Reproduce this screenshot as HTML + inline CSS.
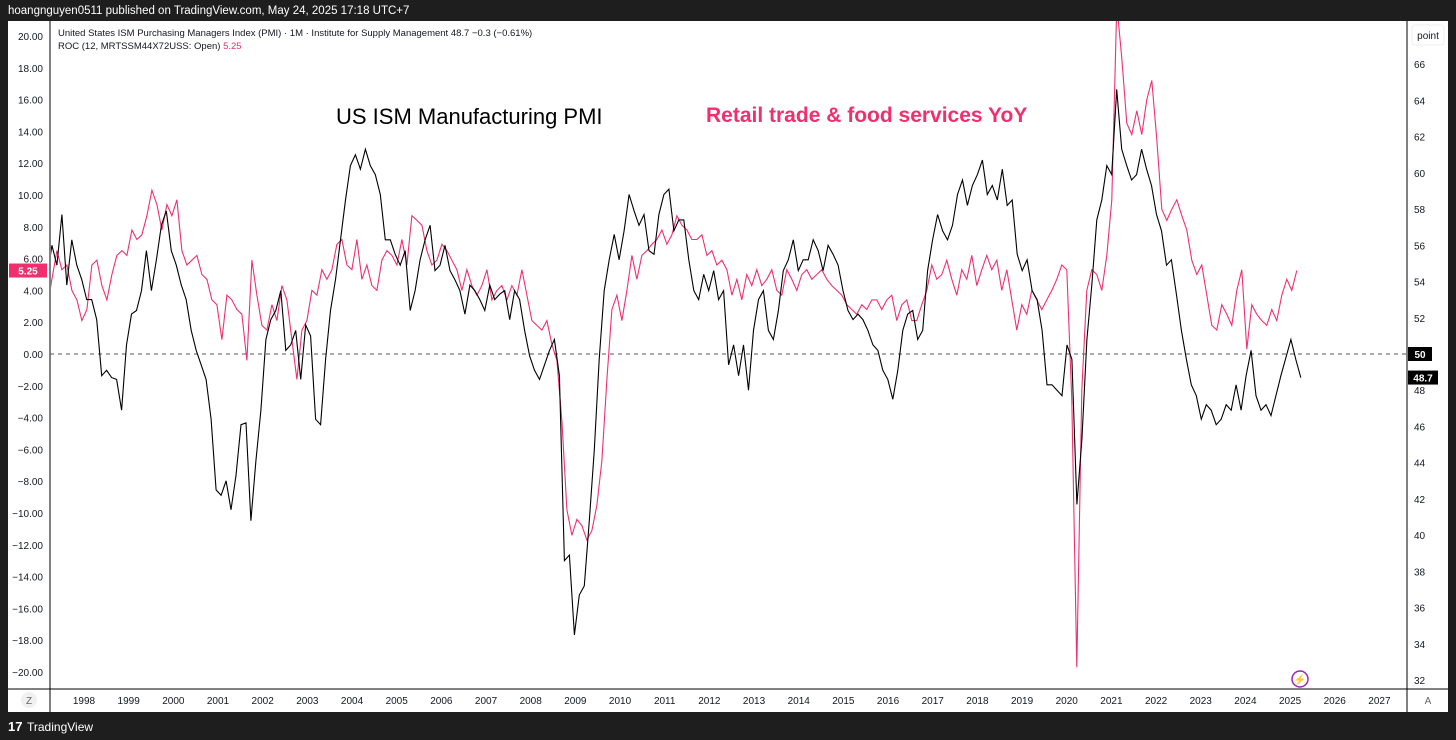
<!DOCTYPE html>
<html><head><meta charset="utf-8">
<style>
html,body{margin:0;padding:0;background:#1e1e1e;}
svg{display:block;font-family:"Liberation Sans",sans-serif;}
</style></head>
<body>
<svg id="chart" width="1456" height="740" viewBox="0 0 1456 740" xmlns="http://www.w3.org/2000/svg">
<rect x="0" y="0" width="1456" height="740" fill="#1e1e1e"/>
<text x="8" y="14" fill="#ffffff" font-size="11.5">hoangnguyen0511 published on TradingView.com, May 24, 2025 17:18 UTC+7</text>
<rect x="8" y="21" width="1440" height="691" fill="#ffffff"/>
<line x1="50" y1="21" x2="50" y2="712" stroke="#000" stroke-width="1"/>
<line x1="1407" y1="21" x2="1407" y2="712" stroke="#000" stroke-width="1"/>
<line x1="8" y1="689" x2="1448" y2="689" stroke="#000" stroke-width="1"/>
<g id="leftTicks"></g>
<g id="rightTicks"></g>
<g id="timeTicks"></g>
<line id="ref50" x1="50" x2="1407" stroke="#555" stroke-dasharray="4,4" stroke-width="1"/>
<defs><clipPath id="plotClip"><rect x="51" y="21" width="1356" height="668"/></clipPath></defs>
<g clip-path="url(#plotClip)">
<path id="retailLine" fill="none" stroke="#f0306e" stroke-width="1.1"/>
<path id="pmiLine" fill="none" stroke="#000" stroke-width="1.1"/>
</g>
<text x="58" y="36" font-size="9.5" fill="#131722">United States ISM Purchasing Managers Index (PMI) · 1M · Institute for Supply Management  48.7  −0.3 (−0.61%)</text>
<text x="58" y="49" font-size="9.5" fill="#131722">ROC (12, MRTSSM44X72USS: Open)  <tspan fill="#f0306e">5.25</tspan></text>
<text x="336" y="124" font-size="22" fill="#000">US ISM Manufacturing PMI</text>
<text x="706" y="122" font-size="21" font-weight="bold" fill="#f0306e">Retail trade &amp; food services YoY</text>
<rect x="1412" y="25" width="32" height="20" rx="3" fill="#fff" stroke="#eee"/>
<text x="1428" y="39" font-size="10" text-anchor="middle" fill="#131722">point</text>
<circle cx="1300" cy="679" r="8" fill="#fff" stroke="#9c27b0" stroke-width="1.5"/>
<text x="1300" y="683" font-size="10" text-anchor="middle" fill="#9c27b0">⚡</text>
<circle cx="29" cy="700" r="8" fill="#f0f0f0"/>
<text x="29" y="704" font-size="10" text-anchor="middle" fill="#666">Z</text>
<text x="1428" y="704" font-size="10" text-anchor="middle" fill="#666">A</text>
<g id="badges"></g>
<text x="8" y="731" font-size="13" font-weight="bold" fill="#fff">17</text>
<text x="27" y="731" font-size="12" fill="#fff">TradingView</text>
</svg>
<script>
const pmiStart = 1997.17, pmiEnd = 2025.24;
const pmiValues = [54.1,56.0,54.9,57.7,53.8,56.3,54.9,54.1,53.0,53.0,51.9,48.8,49.1,48.7,48.6,46.9,50.5,52.2,52.4,53.5,55.7,53.5,55.2,57.1,57.9,55.7,54.9,53.8,53.0,51.3,50.2,49.4,48.6,46.4,42.5,42.2,43.0,41.4,43.3,46.1,46.2,40.8,44.1,46.9,50.8,51.9,52.4,53.5,50.2,50.5,51.3,48.6,51.6,51.0,46.4,46.1,49.7,52.4,54.1,56.3,58.5,60.4,61.0,60.2,61.3,60.4,59.9,58.8,56.3,56.3,55.5,54.9,55.7,52.4,53.5,55.2,56.3,57.1,54.6,54.9,56.0,54.6,54.1,53.5,52.2,53.8,53.5,53.0,52.4,53.8,53.0,53.3,53.5,51.9,53.5,53.0,51.3,49.9,49.1,48.6,49.4,50.2,50.8,48.8,38.6,38.9,34.5,36.7,37.2,40.8,44.7,49.7,53.5,55.2,56.6,55.2,56.8,58.8,57.9,57.1,57.7,55.7,55.5,57.7,58.8,59.1,56.8,57.4,57.4,55.2,53.5,53.0,54.4,53.5,54.6,53.0,53.5,49.4,50.5,48.8,50.5,48.0,51.3,53.0,53.5,51.3,50.8,52.4,54.6,55.2,56.3,54.6,55.2,55.2,56.3,55.7,54.6,56.0,55.5,54.9,53.5,52.4,51.9,52.2,51.9,51.3,50.5,50.2,49.1,48.6,47.5,49.1,51.3,52.2,52.4,50.8,51.3,54.6,56.3,57.7,56.8,56.3,57.1,58.8,59.6,58.2,59.3,59.9,60.7,58.8,59.3,58.5,60.2,58.2,58.5,55.5,54.6,55.2,53.5,53.0,51.3,48.3,48.3,48.0,47.7,50.5,49.7,41.7,45.3,50.8,53.8,57.4,58.5,60.4,59.9,64.6,61.3,60.4,59.6,59.9,61.3,60.2,59.3,57.7,56.8,54.9,55.2,53.3,51.3,49.7,48.3,47.7,46.4,47.2,46.9,46.1,46.4,47.2,46.9,48.3,46.9,48.8,50.2,47.7,46.9,47.2,46.6,47.7,48.8,49.8,50.8,49.7,48.7];
const retailStart = 1997.17, retailEnd = 2025.15;
const retailValues = [2.8,4.7,6.5,5.3,5.6,4.0,3.4,2.1,2.8,5.6,5.9,4.3,3.4,5.0,6.2,6.5,6.2,7.8,7.2,7.5,8.7,10.3,9.4,7.8,9.4,8.7,9.7,6.5,5.6,5.9,6.2,5.0,4.7,3.4,3.1,0.9,3.7,3.4,2.8,2.5,-0.4,5.9,3.7,1.8,1.5,3.1,2.1,4.3,3.4,0.9,-1.6,1.5,2.1,4.0,3.7,5.3,4.7,5.3,6.9,7.2,5.6,5.3,7.2,4.7,5.6,4.3,4.0,5.9,6.5,6.2,5.6,7.2,5.6,8.7,8.4,8.1,6.5,5.6,5.9,6.9,6.5,5.9,5.3,4.0,5.3,4.3,3.7,4.3,5.3,3.4,4.0,4.3,3.4,4.3,3.7,5.3,3.7,2.1,1.8,1.5,2.1,0.6,-0.4,-4.2,-9.8,-11.4,-10.4,-10.8,-11.7,-11.1,-9.5,-6.7,-1.6,2.8,3.7,2.1,4.0,6.2,4.7,6.2,6.5,6.9,7.2,7.8,6.9,7.5,8.7,8.1,7.8,7.2,7.2,7.5,6.2,6.5,5.6,5.9,5.3,3.7,4.7,3.4,5.0,4.3,5.3,4.3,4.7,5.3,4.0,3.7,5.3,4.7,4.0,5.0,5.3,4.7,5.0,5.3,4.7,4.3,4.0,3.7,3.1,2.8,2.5,3.1,2.8,3.4,3.4,2.8,3.4,3.7,2.1,3.1,3.4,2.1,2.1,3.1,4.0,5.6,4.7,5.0,5.9,4.7,3.7,5.3,4.7,6.2,4.3,5.3,6.2,5.3,5.9,4.0,5.3,3.4,1.5,3.1,2.5,4.0,3.4,2.8,3.4,4.0,4.7,5.6,5.3,-2.9,-19.7,-2.3,4.0,5.3,5.0,4.0,6.2,9.7,22.0,18.6,14.5,13.8,15.3,13.8,16.0,17.2,13.5,9.1,8.4,9.1,9.7,8.7,7.8,5.9,5.0,5.6,3.7,1.8,1.5,3.1,2.5,1.8,4.0,5.3,0.3,3.1,2.5,2.1,1.8,2.8,2.1,3.7,4.7,4.0,5.25];
const leftTicks = [20,18,16,14,12,10,8,6,4,2,0,-2,-4,-6,-8,-10,-12,-14,-16,-18,-20];
const rightTicks = [66,64,62,60,58,56,54,52,50,48,46,44,42,40,38,36,34,32];
const yearTicks = [1998,1999,2000,2001,2002,2003,2004,2005,2006,2007,2008,2009,2010,2011,2012,2013,2014,2015,2016,2017,2018,2019,2020,2021,2022,2023,2024,2025,2026,2027];

const NS = "http://www.w3.org/2000/svg";
const xOf = t => 84 + (t - 1998) * 44.67;
const yLeft = v => 354 - v * 15.9;
const yRight = v => 354 - (v - 50) * 18.12;
function mk(tag, attrs, parent, txt){const e=document.createElementNS(NS,tag);for(const k in attrs)e.setAttribute(k,attrs[k]);if(txt!==undefined)e.textContent=txt;parent.appendChild(e);return e;}
const lg=document.getElementById('leftTicks'), rg=document.getElementById('rightTicks'), tg=document.getElementById('timeTicks');
leftTicks.forEach(v=>{const e=mk('text',{x:43,y:yLeft(v)+4,'font-size':10,'text-anchor':'end',fill:'#131722'},lg,v.toFixed(2).replace('-','−'));

});
rightTicks.forEach(v=>{const e=mk('text',{x:1414,y:yRight(v)+4,'font-size':10,fill:'#131722'},rg,String(v));

});
yearTicks.forEach(v=>{const e=mk('text',{x:xOf(v),y:704,'font-size':10,'text-anchor':'middle',fill:'#131722'},tg,String(v));

});
function path(vals,s,e,yf){const n=vals.length;return vals.map((v,i)=>(i?'L':'M')+xOf(s+(e-s)*i/(n-1)).toFixed(1)+','+yf(v).toFixed(1)).join('');}
document.getElementById('pmiLine').setAttribute('d',path(pmiValues,pmiStart,pmiEnd,yRight));
document.getElementById('retailLine').setAttribute('d',path(retailValues,retailStart,retailEnd,yLeft));
const r=document.getElementById('ref50');r.setAttribute('y1',yRight(50));r.setAttribute('y2',yRight(50));
const b=document.getElementById('badges');
function badge(x,y,w,fill,txt,name){const g=mk('g',{},b);


mk('rect',{x:x,y:y-7,width:w,height:14,fill:fill},g);mk('text',{x:x+w/2,y:y+4,'font-size':10,'font-weight':'bold','text-anchor':'middle',fill:'#fff'},g,txt);}
const lastRetail=retailValues[retailValues.length-1], lastPmi=pmiValues[pmiValues.length-1];
badge(9,yLeft(lastRetail),38,'#f0306e',lastRetail.toFixed(2),'retail-last-value-badge');
badge(1408,yRight(50),24,'#000','50','pmi-50-badge');
badge(1408,yRight(lastPmi),30,'#000',lastPmi.toFixed(1),'pmi-last-value-badge');
</script>
</body></html>
